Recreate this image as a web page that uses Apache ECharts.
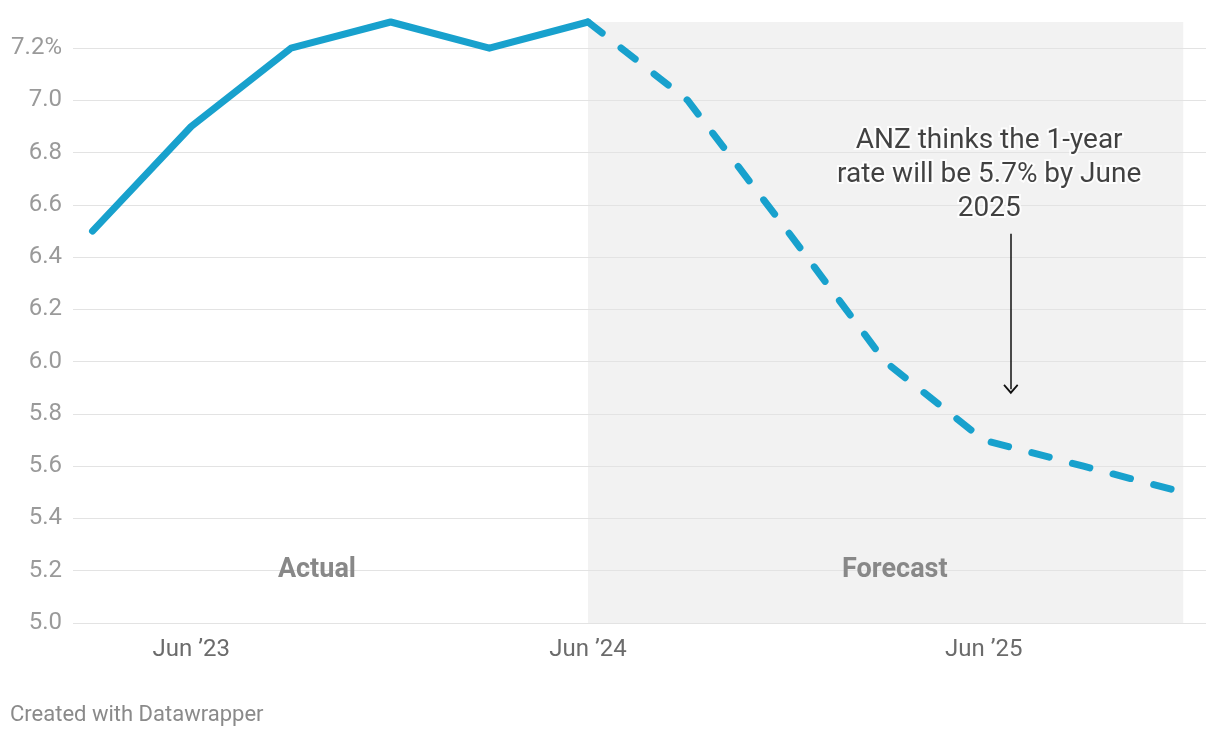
<!DOCTYPE html>
<html>
<head>
<meta charset="utf-8">
<script src="https://cdn.jsdelivr.net/npm/echarts@6/dist/echarts.min.js"></script>
<style>
  html, body { margin: 0; padding: 0; background: #fff; }
  #chart { width: 1220px; height: 738px; }
</style>
</head>
<body>
<div id="chart"></div>
<script>
// Quarterly 1-year rate (%), quarter-end dates Mar '23 .. Dec '25
const dates = ["2023-03-31","2023-06-30","2023-09-30","2023-12-31","2024-03-31","2024-06-30",
               "2024-09-30","2024-12-31","2025-03-31","2025-06-30","2025-09-30","2025-12-31"];
const actualValues   = [6.5, 6.9, 7.2, 7.3, 7.2, 7.3];             // Mar '23 .. Jun '24
const forecastValues = [7.3, 7.0, 6.5, 6.0, 5.7, 5.6, 5.5];        // Jun '24 .. Dec '25
const forecastStart = 5;
const xTickDates  = ["2023-06-30", "2024-06-30", "2025-06-30"];
const xTickLabels = ["Jun ’23", "Jun ’24", "Jun ’25"];
const yTicks = [5.0, 5.2, 5.4, 5.6, 5.8, 6.0, 6.2, 6.4, 6.6, 6.8, 7.0, 7.2];
const yMin = 5.0, yMax = 7.3;
const annotationText = "ANZ thinks the 1-year\nrate will be 5.7% by June\n2025";

// dates -> day numbers on a linear (value) axis
const day = s => { const [y, m, d] = s.split('-').map(Number); return Date.UTC(y, m - 1, d) / 86400000; };
const actualData = actualValues.map((v, i) => [day(dates[i]), v]);
const forecastData = forecastValues.map((v, i) => [day(dates[forecastStart + i]), v]);
const tickDays = xTickDates.map(day);

const chart = echarts.init(document.getElementById('chart'), null, { renderer: 'canvas' });
const FONT = 'Roboto, "Noto Sans", sans-serif';
const BLUE = '#18a1cd';

chart.setOption({
  animation: false,
  backgroundColor: '#ffffff',
  textStyle: { fontFamily: FONT },
  grid: { left: 73, right: 14, top: 22, bottom: 115, containLabel: false, outerBoundsMode: 'none' },
  xAxis: {
    type: 'value',
    min: day('2023-03-13'), max: day('2026-01-21'),
    axisLine: { show: false },
    axisTick: { show: false },
    splitLine: { show: false },
    axisLabel: {
      customValues: tickDays,
      formatter: v => {
        let best = 0;
        tickDays.forEach((t, i) => { if (Math.abs(t - v) < Math.abs(tickDays[best] - v)) best = i; });
        return xTickLabels[best];
      },
      color: '#6b6b6b', fontSize: 24, fontFamily: FONT, margin: 15
    }
  },
  yAxis: {
    type: 'value',
    min: yMin, max: yMax,
    axisLine: { show: false },
    axisTick: { show: false },
    splitLine: { show: false },
    axisLabel: {
      customValues: yTicks,
      formatter: v => (Math.abs(v - 7.2) < 1e-6 ? v.toFixed(1) + '%' : v.toFixed(1)),
      color: '#9a9a9a', fontSize: 24, fontFamily: FONT, margin: 11
    }
  },
  series: [
    {
      name: 'shade', type: 'line', data: [], z: 1,
      markArea: {
        silent: true, z: 1,
        itemStyle: { color: '#f2f2f2' },
        data: [[{ coord: [day(dates[forecastStart]), yMin] }, { coord: [day(dates[dates.length - 1]), yMax] }]]
      }
    },
    {
      name: 'grid', type: 'line', data: [], z: 2,
      markLine: {
        silent: true, z: 2, symbol: ['none', 'none'],
        label: { show: false },
        lineStyle: { color: '#e3e3e3', width: 1.2, type: 'solid' },
        data: yTicks.map(v => ({ yAxis: v }))
      },
      markPoint: {
        silent: true, z: 3, symbol: 'circle', symbolSize: 0,
        label: { show: true, position: 'inside', color: '#888888', fontSize: 27, fontWeight: 'bold', fontFamily: FONT },
        data: [
          { coord: [day('2023-10-24'), 5.2], label: { formatter: 'Actual' } },
          { coord: [day('2025-04-09'), 5.2], label: { formatter: 'Forecast' } }
        ]
      }
    },
    {
      name: 'Actual', type: 'line', data: actualData, z: 3, clip: false,
      showSymbol: false, symbol: 'none', smooth: false,
      lineStyle: { color: BLUE, width: 7, cap: 'round', join: 'round' }
    },
    {
      name: 'Forecast', type: 'line', data: forecastData, z: 3, clip: false,
      showSymbol: false, symbol: 'none', smooth: false,
      lineStyle: { color: BLUE, width: 7, type: [18, 24], cap: 'round', join: 'round' }
    },
    {
      name: 'annotation', type: 'scatter', z: 5, silent: true,
      symbolSize: 0, data: [[day('2025-07-05'), 6.714]],
      label: {
        show: true, position: 'inside', formatter: annotationText,
        color: '#111111', fontSize: 28, lineHeight: 34, fontFamily: FONT, align: 'center',
        textBorderColor: '#ffffff', textBorderWidth: 4
      },
      markLine: {
        silent: true, z: 5,
        symbol: ['none', 'path://M0,9 L8,0 L16,9 L14.6,10.4 L8,3 L1.4,10.4 Z'],
        symbolSize: [15, 10],
        label: { show: false },
        lineStyle: { color: '#111111', width: 1.5, type: 'solid' },
        data: [[{ coord: [day('2025-07-25'), 6.49] }, { coord: [day('2025-07-25'), 5.895] }]]
      }
    }
  ],
  graphic: [
    {
      type: 'text', left: 10, top: 704,
      style: { text: 'Created with Datawrapper', fill: '#8a8a8a', fontSize: 22, fontFamily: FONT }
    }
  ]
});
</script>
</body>
</html>
